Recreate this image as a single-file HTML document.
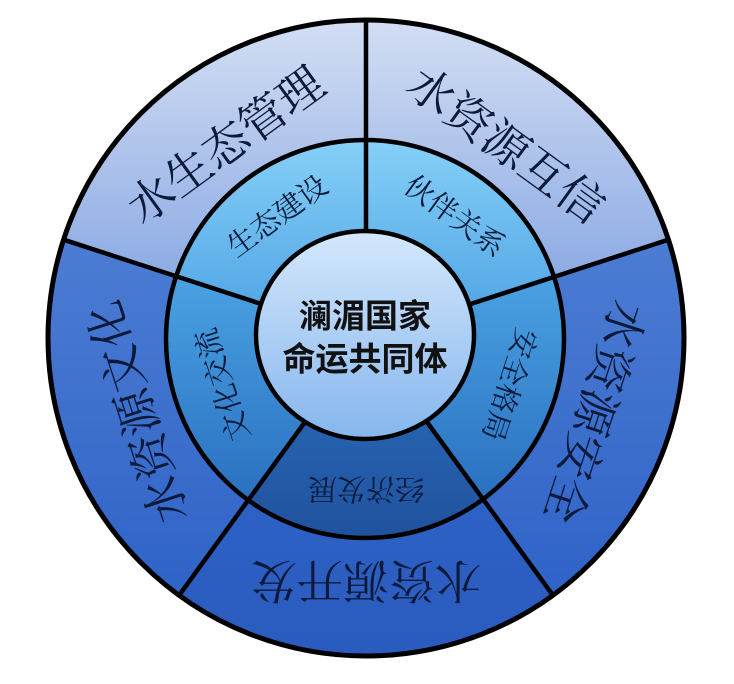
<!DOCTYPE html>
<html><head><meta charset="utf-8"><style>
html,body{margin:0;padding:0;background:#fff;width:734px;height:684px;overflow:hidden}
svg{display:block}
.o{font-family:"Liberation Serif","Noto Serif CJK SC",serif;font-size:46px;fill:#0b1a3a}
.i{font-family:"Liberation Serif","Noto Serif CJK SC",serif;font-size:29px;fill:#0b1a3a}
.c{font-family:"Liberation Sans","Noto Sans CJK SC",sans-serif;font-size:33px;font-weight:bold;fill:#111}
</style></head><body>
<svg width="734" height="684" viewBox="0 0 734 684" xmlns="http://www.w3.org/2000/svg">
<defs>
<linearGradient id="ou" x1="0" y1="0" x2="0" y2="1"><stop offset="0" stop-color="#d3def4"/><stop offset="1" stop-color="#7c9fe0"/></linearGradient>
<linearGradient id="os" x1="0" y1="0" x2="0" y2="1"><stop offset="0" stop-color="#4c7cd3"/><stop offset="1" stop-color="#2f63c7"/></linearGradient>
<linearGradient id="ob" x1="0" y1="0" x2="0" y2="1"><stop offset="0" stop-color="#3268cb"/><stop offset="1" stop-color="#2a5bbf"/></linearGradient>
<linearGradient id="mu" x1="0" y1="0" x2="0" y2="1"><stop offset="0" stop-color="#86d0f8"/><stop offset="1" stop-color="#4aa0e2"/></linearGradient>
<linearGradient id="ms" x1="0" y1="0" x2="0" y2="1"><stop offset="0" stop-color="#4aa2e2"/><stop offset="1" stop-color="#2a70c0"/></linearGradient>
<linearGradient id="mb" x1="0" y1="0" x2="0" y2="1"><stop offset="0" stop-color="#2c6fbd"/><stop offset="1" stop-color="#20529e"/></linearGradient>
<linearGradient id="cc" x1="0" y1="0" x2="0" y2="1"><stop offset="0" stop-color="#d4e8fc"/><stop offset="1" stop-color="#86b6ee"/></linearGradient>
</defs>
<g transform="translate(366,338)">
<path d="M0,0 L-302.4,-98.3 A318,318 0 0 1 0,-318 Z" fill="url(#ou)"/>
<path d="M0,0 L0,-318 A318,318 0 0 1 302.4,-98.3 Z" fill="url(#ou)"/>
<path d="M0,0 L302.4,-98.3 A318,318 0 0 1 186.9,257.3 Z" fill="url(#os)"/>
<path d="M0,0 L186.9,257.3 A318,318 0 0 1 -186.9,257.3 Z" fill="url(#ob)"/>
<path d="M0,0 L-186.9,257.3 A318,318 0 0 1 -302.4,-98.3 Z" fill="url(#os)"/>
<path d="M0,0 L-189.3,-61.5 A199,199 0 0 1 0,-199 Z" fill="url(#mu)"/>
<path d="M0,0 L0,-199 A199,199 0 0 1 189.3,-61.5 Z" fill="url(#mu)"/>
<path d="M0,0 L189.3,-61.5 A199,199 0 0 1 117,161 Z" fill="url(#ms)"/>
<path d="M0,0 L117,161 A199,199 0 0 1 -117,161 Z" fill="url(#mb)"/>
<path d="M0,0 L-117,161 A199,199 0 0 1 -189.3,-61.5 Z" fill="url(#ms)"/>
<g stroke="#000" stroke-width="4.5">
<line x1="0" y1="0" x2="0" y2="-318"/>
<line x1="0" y1="0" x2="302.4" y2="-98.3"/>
<line x1="0" y1="0" x2="186.9" y2="257.3"/>
<line x1="0" y1="0" x2="-186.9" y2="257.3"/>
<line x1="0" y1="0" x2="-302.4" y2="-98.3"/>
</g>
<circle r="318" fill="none" stroke="#000" stroke-width="5"/>
<circle cx="-1" cy="1" r="199" fill="none" stroke="#000" stroke-width="4.5"/>
<ellipse cx="-1" cy="-3" rx="109" ry="104" fill="url(#cc)" stroke="#000" stroke-width="4.5"/>
<g text-anchor="middle" dominant-baseline="central">
<text class="o" transform="rotate(-36) translate(0,-238)">水生态管理</text>
<text class="o" transform="rotate(36) translate(0,-238)">水资源互信</text>
<text class="o" transform="rotate(108) translate(0,-240)">水资源安全</text>
<text class="o" transform="rotate(180) translate(0,-242)">水资源开发</text>
<text class="o" transform="rotate(-108) translate(0,-240)">水资源文化</text>
<text class="i" transform="rotate(-36) translate(0,-150)">生态建设</text>
<text class="i" transform="rotate(36) translate(0,-150)">伙伴关系</text>
<text class="i" transform="rotate(108) translate(0,-150)">安全格局</text>
<text class="i" transform="rotate(180) translate(0,-150)">经济发展</text>
<text class="i" transform="rotate(-108) translate(0,-150)">文化交流</text>
<text class="c" x="-1" y="-22">澜湄国家</text>
<text class="c" x="-1" y="21">命运共同体</text>
</g>
</g>
</svg>
</body></html>
